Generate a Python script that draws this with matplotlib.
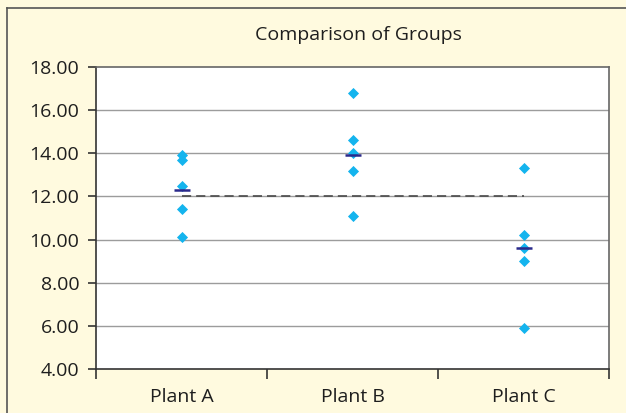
import numpy as np
import matplotlib.pyplot as plt
from matplotlib.lines import Line2D

# data
groups = ['Plant A', 'Plant B', 'Plant C']
plant_a = [13.9, 13.7, 12.5, 11.4, 10.1]
plant_b = [16.8, 14.6, 14.0, 13.2, 11.1]
plant_c = [13.3, 10.2, 9.6, 9.0, 5.9]
grand_mean = 12.0
yticks = [4, 6, 8, 10, 12, 14, 16, 18]

plt.rcParams['font.family'] = ['Open Sans', 'DejaVu Sans']

cream = '#fffadf'
point_col = '#14b4ee'
mean_col = '#2b2a8c'

fig = plt.figure(figsize=(6.26, 4.13), dpi=100, facecolor=cream)
ax = fig.add_axes([96 / 626, 1 - 369 / 413, (609 - 96) / 626, (369 - 67) / 413])

# outer frame (only top and left visible in the crop)
fig.add_artist(Line2D([7 / 626, 1.0], [1 - 8 / 413, 1 - 8 / 413], transform=fig.transFigure,
                      color='#555555', lw=1.2))
fig.add_artist(Line2D([7 / 626, 7 / 626], [0.0, 1 - 8 / 413], transform=fig.transFigure,
                      color='#555555', lw=1.2))

data = [plant_a, plant_b, plant_c]
centers = np.arange(len(groups)) + 0.5

for yv in yticks[1:-1]:
    ax.axhline(yv, color='#9c9c9c', lw=1.0, zorder=1)

ax.plot([centers[0], centers[-1]], [grand_mean, grand_mean], ls=(0, (5.5, 3)),
        color='#4a4a4a', lw=1.2, zorder=2)

for cx, vals in zip(centers, data):
    ax.scatter([cx] * len(vals), vals, marker='D', s=32, color=point_col,
               linewidths=0, zorder=3)
    ax.plot([cx], [np.mean(vals)], marker='_', ms=12, mew=1.8, color=mean_col, zorder=4)

ax.set_xlim(0, 3)
ax.set_ylim(4, 18)
ax.set_yticks(yticks)
ax.set_yticklabels(['%.2f' % v for v in yticks], fontsize=14, color='#1e1e1e')
ax.set_xticks([0, 1, 2, 3])
ax.set_xticklabels([])
ax.set_xticks(centers, minor=True)
ax.set_xticklabels(groups, minor=True, fontsize=14, color='#1e1e1e')
ax.tick_params(axis='x', which='minor', length=0, pad=14)
ax.tick_params(axis='x', which='major', length=7, width=1.2, color='#333333', direction='out')
ax.tick_params(axis='y', length=6, width=1.2, color='#333333', direction='out', pad=6)

for side in ['left', 'bottom']:
    ax.spines[side].set_color('#333333')
    ax.spines[side].set_linewidth(1.2)
for side in ['top', 'right']:
    ax.spines[side].set_color('#666666')
    ax.spines[side].set_linewidth(1.2)

fig.text(358 / 626, 1 - 35 / 413, 'Comparison of Groups', ha='center', va='center',
         fontsize=14, color='#1e1e1e')

fig.savefig('out.png', dpi=100, facecolor=cream)
